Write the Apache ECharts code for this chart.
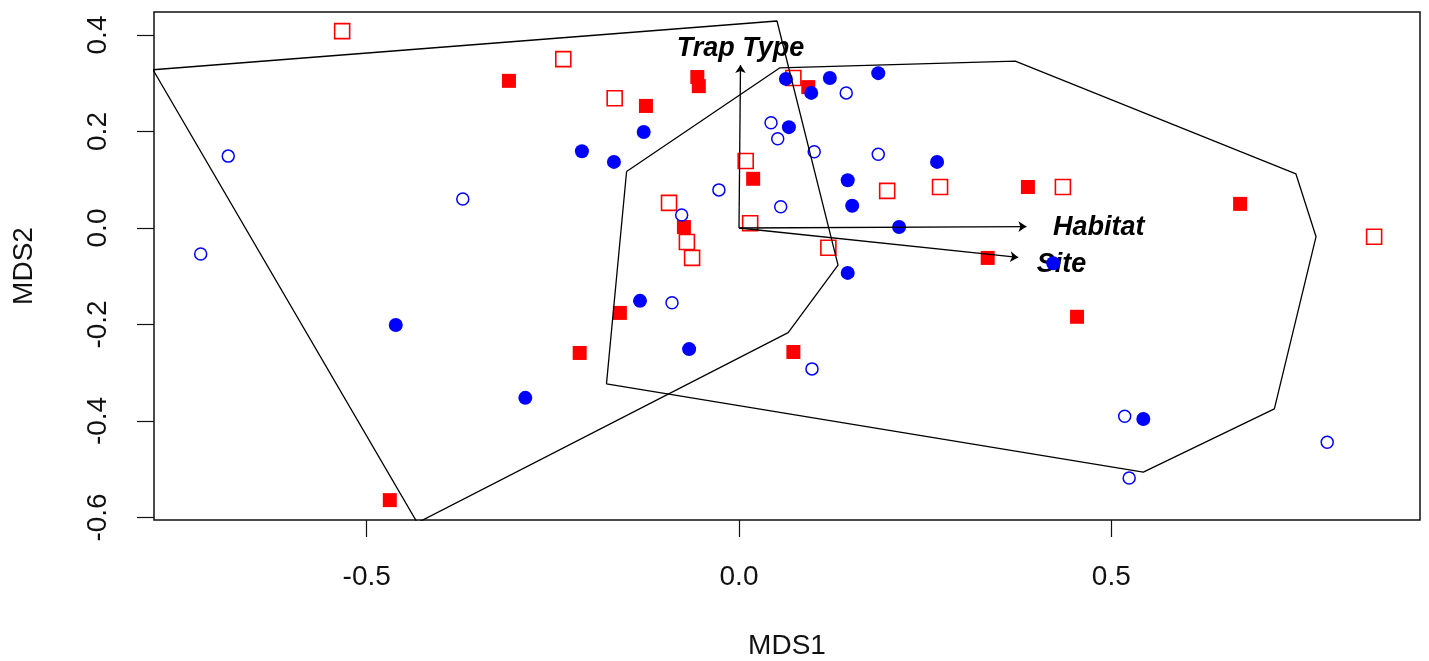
<!DOCTYPE html>
<html>
<head>
<meta charset="utf-8">
<script src="https://cdn.jsdelivr.net/npm/echarts@6/dist/echarts.min.js"></script>
<style>
  html, body { margin: 0; padding: 0; background: #fff; }
  #chart { width: 1429px; height: 661px; }
</style>
</head>
<body>
<div id="chart"></div>
<script>
// NMDS site scores
const blueFilled = [
  [0.063, 0.309], [0.097, 0.280], [0.122, 0.311], [0.187, 0.321], [0.067, 0.209],
  [-0.128, 0.199], [-0.211, 0.159], [-0.168, 0.137], [0.266, 0.137], [0.146, 0.099],
  [0.152, 0.046], [0.215, 0.002], [0.146, -0.093], [0.422, -0.073], [0.543, -0.396],
  [-0.461, -0.201], [-0.287, -0.352], [-0.133, -0.151], [-0.067, -0.251]
];
const blueOpen = [
  [-0.686, 0.149], [-0.371, 0.060], [-0.723, -0.054], [0.144, 0.280], [0.043, 0.218],
  [0.052, 0.185], [0.101, 0.158], [0.187, 0.153], [-0.027, 0.079], [-0.077, 0.027],
  [0.056, 0.044], [0.518, -0.390], [0.524, -0.518], [0.790, -0.444], [-0.090, -0.155],
  [0.098, -0.292]
];
const redFilled = [
  [-0.309, 0.305], [-0.125, 0.253], [-0.056, 0.313], [-0.054, 0.294], [0.093, 0.292],
  [0.019, 0.102], [-0.074, 0.002], [0.388, 0.085], [0.673, 0.050], [0.334, -0.062],
  [0.454, -0.184], [-0.469, -0.564], [-0.160, -0.176], [-0.214, -0.259], [0.073, -0.257]
];
const redOpen = [
  [-0.533, 0.408], [-0.236, 0.350], [-0.167, 0.269], [0.073, 0.311], [0.009, 0.139],
  [0.199, 0.077], [-0.094, 0.052], [-0.070, -0.029], [-0.063, -0.062], [0.015, 0.010],
  [0.120, -0.041], [0.270, 0.085], [0.435, 0.085], [0.853, -0.018]
];

// convex hulls (closed)
const hullA = [
  [-0.787, 0.328], [0.051, 0.429], [0.133, -0.077], [0.066, -0.217], [-0.432, -0.611], [-0.787, 0.328]
];
const hullB = [
  [-0.151, 0.117], [0.055, 0.332], [0.371, 0.346], [0.748, 0.112], [0.775, -0.018],
  [0.719, -0.375], [0.543, -0.506], [-0.178, -0.323], [-0.151, 0.117]
];

// envfit vectors
const vecNames = ['Trap Type', 'Habitat', 'Site'];
const vecEnds = [[0.002, 0.338], [0.386, 0.003], [0.375, -0.061]];
const vecLabels = [[0.002, 0.371], [0.483, 0.0], [0.433, -0.075]];

const xTicks = [-0.5, 0.0, 0.5];
const yTicks = [-0.6, -0.4, -0.2, 0.0, 0.2, 0.4];

const font = "'Liberation Sans', Arial, sans-serif";
const chart = echarts.init(document.getElementById('chart'));

chart.setOption({
  animation: false,
  backgroundColor: '#fff',
  grid: {
    left: 154, right: 9, top: 12, bottom: 141,
    outerBoundsMode: 'none', containLabel: false,
    show: true, borderColor: '#111', borderWidth: 1.5, backgroundColor: 'transparent'
  },
  xAxis: {
    type: 'value',
    min: -0.7857, max: 0.9146,
    splitLine: { show: false },
    axisLine: { show: false, onZero: false },
    axisTick: { show: true, length: 17, lineStyle: { color: '#111', width: 1.2 }, customValues: xTicks },
    axisLabel: {
      customValues: xTicks, margin: 43,
      formatter: v => v.toFixed(1),
      fontFamily: font, fontSize: 28, color: '#111'
    },
    name: 'MDS1', nameLocation: 'middle', nameGap: 112,
    nameTextStyle: { fontFamily: font, fontSize: 28, color: '#111' }
  },
  yAxis: {
    type: 'value',
    min: -0.6052, max: 0.4477,
    splitLine: { show: false },
    axisLine: { show: false, onZero: false },
    axisTick: { show: true, length: 17, lineStyle: { color: '#111', width: 1.2 }, customValues: yTicks },
    axisLabel: {
      customValues: yTicks, margin: 42, rotate: 90,
      formatter: v => v.toFixed(1),
      fontFamily: font, fontSize: 28, color: '#111'
    },
    name: 'MDS2', nameLocation: 'middle', nameGap: 116,
    nameTextStyle: { fontFamily: font, fontSize: 28, color: '#111' }
  },
  series: [
    {
      type: 'scatter', z: 1,
      symbol: 'circle', symbolSize: 1,
      itemStyle: { color: 'rgba(0,0,0,0)', opacity: 1 },
      label: {
        show: true, position: 'inside', formatter: p => p.name,
        fontFamily: font, fontSize: 27, fontWeight: 'bold', fontStyle: 'italic',
        color: '#000', opacity: 1, textBorderWidth: 0
      },
      data: vecNames.map((n, i) => ({ name: n, value: vecLabels[i] }))
    },
    {
      type: 'line', data: hullA, showSymbol: false, symbol: 'none', clip: true, z: 3,
      lineStyle: { color: '#000', width: 1.3 }
    },
    {
      type: 'line', data: hullB, showSymbol: false, symbol: 'none', clip: true, z: 3,
      lineStyle: { color: '#000', width: 1.3 }
    },
    {
      type: 'lines', coordinateSystem: 'cartesian2d', z: 3,
      symbol: ['none', 'arrow'], symbolSize: 8,
      lineStyle: { color: '#000', width: 1.3, opacity: 1 },
      data: vecEnds.map(e => ({ coords: [[0, 0], e] }))
    },
    {
      type: 'scatter', z: 2, symbol: 'rect', symbolSize: 15, data: redOpen,
      itemStyle: { color: 'rgba(0,0,0,0)', borderColor: '#ff0000', borderWidth: 1.6, opacity: 1 }
    },
    {
      type: 'scatter', z: 2, symbol: 'rect', symbolSize: 14, data: redFilled,
      itemStyle: { color: '#ff0000', opacity: 1 }
    },
    {
      type: 'scatter', z: 2, symbol: 'circle', symbolSize: 12, data: blueOpen,
      itemStyle: { color: 'rgba(0,0,0,0)', borderColor: '#0000ff', borderWidth: 1.5, opacity: 1 }
    },
    {
      type: 'scatter', z: 2, symbol: 'circle', symbolSize: 14, data: blueFilled,
      itemStyle: { color: '#0000ff', opacity: 1 }
    }
  ]
});
</script>
</body>
</html>
